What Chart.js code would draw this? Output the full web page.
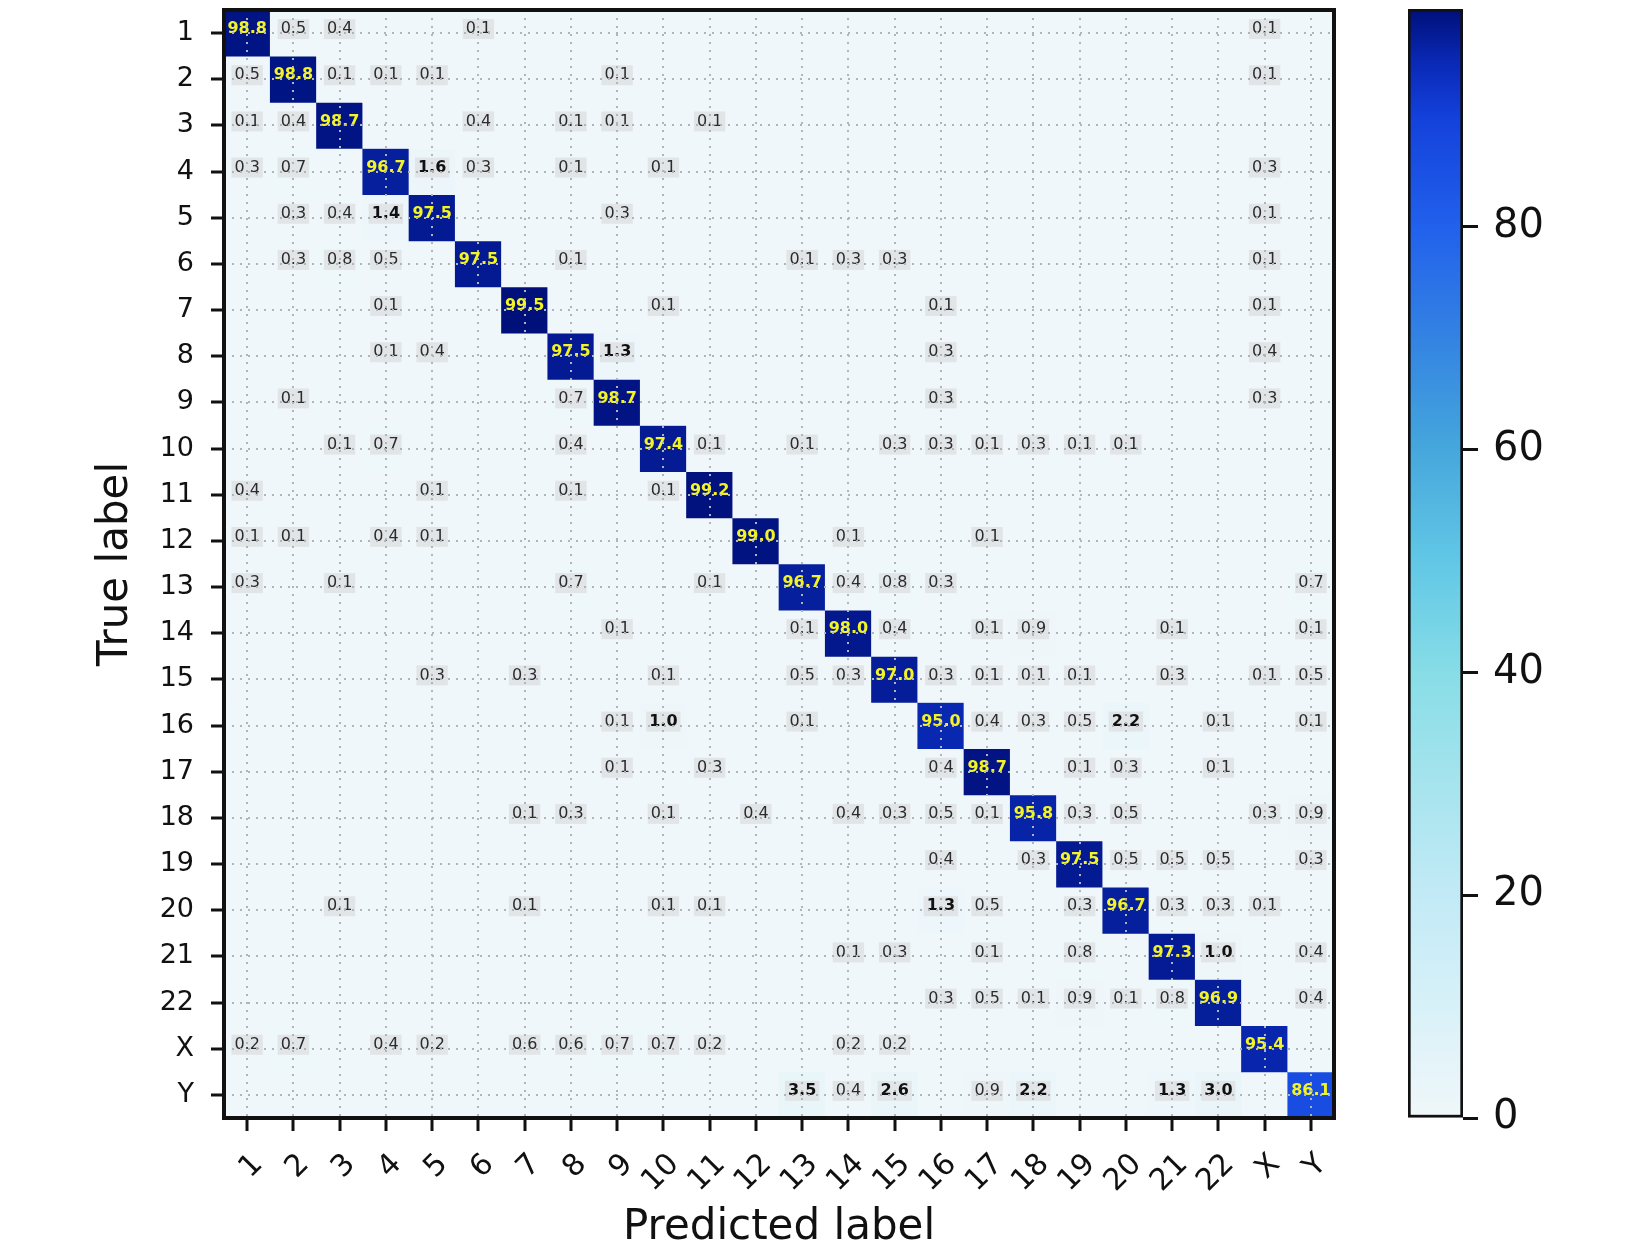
<!DOCTYPE html>
<html>
<head>
<meta charset="utf-8">
<script src="https://cdn.jsdelivr.net/npm/chart.js@4.4.1/dist/chart.umd.min.js"></script>
<style>
html, body { margin: 0; padding: 0; background: #fff; }
#wrap { position: relative; width: 1637px; height: 1250px; }
#cm { position: absolute; left: 0; top: 0; }
#cb { position: absolute; left: 1340px; top: 0; }
</style>
</head>
<body>
<div id="wrap">
  <canvas id="cm" width="1637" height="1250"></canvas>
  <canvas id="cb" width="297" height="1250"></canvas>
</div>
<script>
// class names, used for both axes
const classLabels = ['1', '2', '3', '4', '5', '6', '7', '8', '9', '10', '11', '12',
  '13', '14', '15', '16', '17', '18', '19', '20', '21', '22', 'X', 'Y'];

// one row per true label, columns = predicted label (percent)
const rowValues = [
  [98.8, 0.5, 0.4, 0, 0, 0.1, 0, 0, 0, 0, 0, 0, 0, 0, 0, 0, 0, 0, 0, 0, 0, 0, 0.1, 0],
  [0.5, 98.8, 0.1, 0.1, 0.1, 0, 0, 0, 0.1, 0, 0, 0, 0, 0, 0, 0, 0, 0, 0, 0, 0, 0, 0.1, 0],
  [0.1, 0.4, 98.7, 0, 0, 0.4, 0, 0.1, 0.1, 0, 0.1, 0, 0, 0, 0, 0, 0, 0, 0, 0, 0, 0, 0, 0],
  [0.3, 0.7, 0, 96.7, 1.6, 0.3, 0, 0.1, 0, 0.1, 0, 0, 0, 0, 0, 0, 0, 0, 0, 0, 0, 0, 0.3, 0],
  [0, 0.3, 0.4, 1.4, 97.5, 0, 0, 0, 0.3, 0, 0, 0, 0, 0, 0, 0, 0, 0, 0, 0, 0, 0, 0.1, 0],
  [0, 0.3, 0.8, 0.5, 0, 97.5, 0, 0.1, 0, 0, 0, 0, 0.1, 0.3, 0.3, 0, 0, 0, 0, 0, 0, 0, 0.1, 0],
  [0, 0, 0, 0.1, 0, 0, 99.5, 0, 0, 0.1, 0, 0, 0, 0, 0, 0.1, 0, 0, 0, 0, 0, 0, 0.1, 0],
  [0, 0, 0, 0.1, 0.4, 0, 0, 97.5, 1.3, 0, 0, 0, 0, 0, 0, 0.3, 0, 0, 0, 0, 0, 0, 0.4, 0],
  [0, 0.1, 0, 0, 0, 0, 0, 0.7, 98.7, 0, 0, 0, 0, 0, 0, 0.3, 0, 0, 0, 0, 0, 0, 0.3, 0],
  [0, 0, 0.1, 0.7, 0, 0, 0, 0.4, 0, 97.4, 0.1, 0, 0.1, 0, 0.3, 0.3, 0.1, 0.3, 0.1, 0.1, 0, 0, 0, 0],
  [0.4, 0, 0, 0, 0.1, 0, 0, 0.1, 0, 0.1, 99.2, 0, 0, 0, 0, 0, 0, 0, 0, 0, 0, 0, 0, 0],
  [0.1, 0.1, 0, 0.4, 0.1, 0, 0, 0, 0, 0, 0, 99.0, 0, 0.1, 0, 0, 0.1, 0, 0, 0, 0, 0, 0, 0],
  [0.3, 0, 0.1, 0, 0, 0, 0, 0.7, 0, 0, 0.1, 0, 96.7, 0.4, 0.8, 0.3, 0, 0, 0, 0, 0, 0, 0, 0.7],
  [0, 0, 0, 0, 0, 0, 0, 0, 0.1, 0, 0, 0, 0.1, 98.0, 0.4, 0, 0.1, 0.9, 0, 0, 0.1, 0, 0, 0.1],
  [0, 0, 0, 0, 0.3, 0, 0.3, 0, 0, 0.1, 0, 0, 0.5, 0.3, 97.0, 0.3, 0.1, 0.1, 0.1, 0, 0.3, 0, 0.1, 0.5],
  [0, 0, 0, 0, 0, 0, 0, 0, 0.1, 1.0, 0, 0, 0.1, 0, 0, 95.0, 0.4, 0.3, 0.5, 2.2, 0, 0.1, 0, 0.1],
  [0, 0, 0, 0, 0, 0, 0, 0, 0.1, 0, 0.3, 0, 0, 0, 0, 0.4, 98.7, 0, 0.1, 0.3, 0, 0.1, 0, 0],
  [0, 0, 0, 0, 0, 0, 0.1, 0.3, 0, 0.1, 0, 0.4, 0, 0.4, 0.3, 0.5, 0.1, 95.8, 0.3, 0.5, 0, 0, 0.3, 0.9],
  [0, 0, 0, 0, 0, 0, 0, 0, 0, 0, 0, 0, 0, 0, 0, 0.4, 0, 0.3, 97.5, 0.5, 0.5, 0.5, 0, 0.3],
  [0, 0, 0.1, 0, 0, 0, 0.1, 0, 0, 0.1, 0.1, 0, 0, 0, 0, 1.3, 0.5, 0, 0.3, 96.7, 0.3, 0.3, 0.1, 0],
  [0, 0, 0, 0, 0, 0, 0, 0, 0, 0, 0, 0, 0, 0.1, 0.3, 0, 0.1, 0, 0.8, 0, 97.3, 1.0, 0, 0.4],
  [0, 0, 0, 0, 0, 0, 0, 0, 0, 0, 0, 0, 0, 0, 0, 0.3, 0.5, 0.1, 0.9, 0.1, 0.8, 96.9, 0, 0.4],
  [0.2, 0.7, 0, 0.4, 0.2, 0, 0.6, 0.6, 0.7, 0.7, 0.2, 0, 0, 0.2, 0.2, 0, 0, 0, 0, 0, 0, 0, 95.4, 0],
  [0, 0, 0, 0, 0, 0, 0, 0, 0, 0, 0, 0, 3.5, 0.4, 2.6, 0, 0.9, 2.2, 0, 0, 1.3, 3.0, 0, 86.1]
];

const colorbarTicks = [0, 20, 40, 60, 80];

// colormap, white-cyan to navy
const cmapStops = [
  [0.00, '#f0f7fa'], [0.10, '#d8f1f8'], [0.20, '#c2eaf6'], [0.30, '#a6e4ee'],
  [0.40, '#88dde6'], [0.50, '#62c8e6'], [0.60, '#46a8dc'], [0.70, '#3484e2'],
  [0.80, '#2262ec'], [0.90, '#1442dc'], [0.95, '#0a2ab8'], [1.00, '#00107a']
];

function hexRgb(h) {
  return [parseInt(h.slice(1, 3), 16), parseInt(h.slice(3, 5), 16), parseInt(h.slice(5, 7), 16)];
}

function cmap(t) {
  t = Math.max(0, Math.min(1, t));
  for (let i = 1; i < cmapStops.length; i++) {
    const [t1, c1] = cmapStops[i];
    if (t <= t1) {
      const [t0, c0] = cmapStops[i - 1];
      const f = (t - t0) / (t1 - t0);
      const a = hexRgb(c0), b = hexRgb(c1);
      const m = a.map((v, k) => Math.round(v + (b[k] - v) * f));
      return `rgb(${m[0]},${m[1]},${m[2]})`;
    }
  }
  return cmapStops[cmapStops.length - 1][1];
}

const vmax = Math.max(...rowValues.flat());

Chart.defaults.font.family = 'DejaVu Sans';
Chart.defaults.color = '#111';

// one floating-bar dataset per row -> one coloured cell per column
const cellDatasets = rowValues.map((row, r) => ({
  label: classLabels[r],
  data: row.map(() => [r - 0.5, r + 0.5]),
  backgroundColor: row.map(v => cmap(v / vmax)),
  borderWidth: 0,
  barPercentage: 1,
  categoryPercentage: 1,
  grouped: false
}));

const cellText = {
  id: 'cellText',
  afterDatasetsDraw(chart) {
    const { ctx, scales: { x, y } } = chart;
    ctx.save();
    ctx.textAlign = 'center';
    ctx.textBaseline = 'middle';
    rowValues.forEach((row, r) => {
      row.forEach((v, c) => {
        if (!v) return;
        const px = x.getPixelForValue(c);
        const py = y.getPixelForValue(r) - 4;
        const txt = v.toFixed(1);
        if (r === c) {
          ctx.font = 'bold 16px "DejaVu Sans"';
          ctx.fillStyle = '#f4f424';
        } else {
          ctx.font = (v >= 1 ? 'bold ' : '') + '16px "DejaVu Sans"';
          const w = ctx.measureText(txt).width;
          ctx.fillStyle = '#e2e5e7';
          ctx.fillRect(px - w / 2 - 3, py - 10, w + 6, 20);
          ctx.fillStyle = v >= 1 ? '#111' : '#2b2b2b';
        }
        ctx.fillText(txt, px, py);
      });
    });
    ctx.restore();
  },
  afterDraw(chart) {
    const { ctx, chartArea: a } = chart;
    ctx.save();
    ctx.strokeStyle = '#111';
    ctx.lineWidth = 4;
    ctx.strokeRect(a.left, a.top, a.right - a.left, a.bottom - a.top);
    ctx.restore();
  }
};

// dotted grid on top of the cells, like plt.grid(':')
const gridOpts = {
  z: 1,
  offset: false,
  color: '#b0b5ba',
  lineWidth: 2,
  tickLength: 13,
  tickWidth: 3,
  tickColor: '#111'
};

new Chart(document.getElementById('cm'), {
  type: 'bar',
  data: { labels: classLabels, datasets: cellDatasets },
  options: {
    responsive: false,
    animation: false,
    events: [],
    layout: { padding: { top: 10, right: 303, left: 0, bottom: 0 } },
    plugins: { legend: { display: false }, tooltip: { enabled: false } },
    scales: {
      x: {
        type: 'category',
        offset: true,
        grid: gridOpts,
        border: { display: false, dash: [2, 6] },
        ticks: {
          autoSkip: false, minRotation: 45, maxRotation: 45,
          font: { size: 30 }, color: '#111', padding: 16, labelOffset: 11
        },
        title: {
          display: true, text: 'Predicted label', color: '#111',
          font: { size: 42 }, padding: { top: 0, bottom: -3 }
        },
        afterFit(s) { s.height = 132; s.paddingLeft = 0; s.paddingRight = 0; }
      },
      y: {
        type: 'linear',
        reverse: true,
        min: -0.5,
        max: 23.5,
        afterBuildTicks(s) { s.ticks = classLabels.map((_, i) => ({ value: i })); },
        grid: gridOpts,
        border: { display: false, dash: [2, 6] },
        ticks: { callback: v => classLabels[v], font: { size: 27 }, color: '#111', padding: 17 },
        title: {
          display: true, text: 'True label', color: '#111',
          font: { size: 42 }, padding: { top: 91, bottom: 0 }
        },
        afterFit(s) { s.width = 224; s.paddingTop = 0; s.paddingBottom = 0; }
      }
    }
  },
  plugins: [cellText]
});

// colour bar
new Chart(document.getElementById('cb'), {
  type: 'bar',
  data: {
    labels: [''],
    datasets: [{
      data: [[0, vmax]],
      backgroundColor(c) {
        const a = c.chart.chartArea;
        if (!a) return cmap(0.5);
        const g = c.chart.ctx.createLinearGradient(0, a.bottom, 0, a.top);
        cmapStops.forEach(([t, col]) => g.addColorStop(t, col));
        return g;
      },
      borderColor: '#111',
      borderWidth: 3,
      borderSkipped: false,
      barPercentage: 1,
      categoryPercentage: 1
    }]
  },
  options: {
    responsive: false,
    animation: false,
    events: [],
    layout: { padding: { left: 68, top: 9, bottom: 132, right: 0 } },
    plugins: { legend: { display: false }, tooltip: { enabled: false } },
    scales: {
      x: { display: false },
      y: {
        position: 'right',
        min: 0,
        max: vmax,
        afterBuildTicks(s) { s.ticks = colorbarTicks.map(v => ({ value: v })); },
        ticks: { font: { size: 40 }, color: '#111', padding: 15 },
        grid: { drawOnChartArea: false, tickLength: 15, tickWidth: 3, tickColor: '#111' },
        border: { display: false },
        afterFit(s) { s.width = 174; s.paddingTop = 0; s.paddingBottom = 0; }
      }
    }
  }
});
</script>
</body>
</html>
